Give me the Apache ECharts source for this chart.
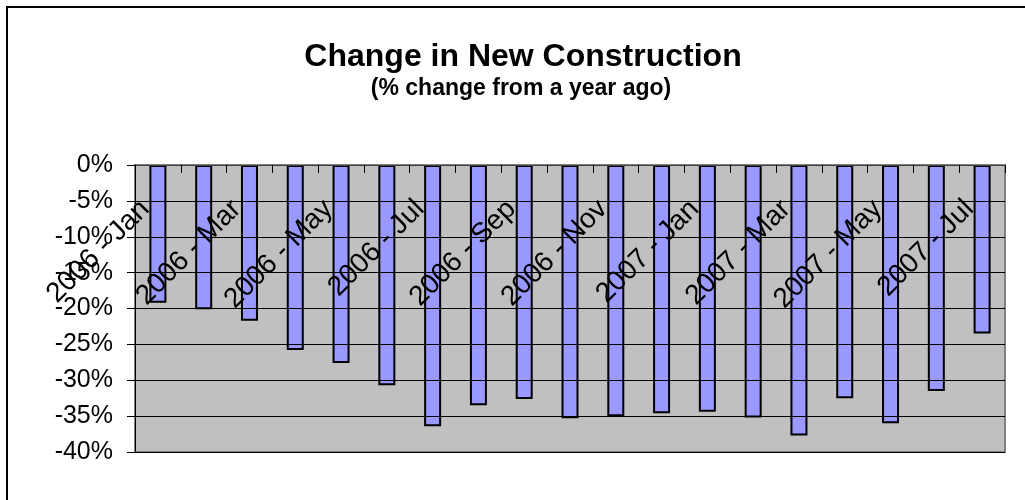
<!DOCTYPE html>
<html>
<head>
<meta charset="utf-8">
<script src="https://cdn.jsdelivr.net/npm/echarts@6/dist/echarts.min.js"></script>
<style>
html,body{margin:0;padding:0;background:#fff;}
#chart{width:1025px;height:500px;}
</style>
</head>
<body>
<div id="chart"></div>
<script>
const categories = ["2006 - Jan","2006 - Feb","2006 - Mar","2006 - Apr","2006 - May","2006 - Jun","2006 - Jul","2006 - Aug","2006 - Sep","2006 - Oct","2006 - Nov","2006 - Dec","2007 - Jan","2007 - Feb","2007 - Mar","2007 - Apr","2007 - May","2007 - Jun","2007 - Jul"];
const pctChange = [-19.2, -20.1, -21.7, -25.8, -27.6, -30.7, -36.4, -33.5, -32.6, -35.3, -35.0, -34.6, -34.4, -35.2, -37.7, -32.5, -36.0, -31.5, -23.5];
const titleText = "Change in New Construction";
const subtitleText = "(% change from a year ago)";

const font = "'Liberation Sans', Arial, sans-serif";
const gridTop = 165, gridBottom = 48;
const plotHeight = 500 - gridTop - gridBottom;
const chart = echarts.init(document.getElementById('chart'), null, {renderer: 'canvas'});
chart.setOption({
  animation: false,
  backgroundColor: '#ffffff',
  title: [
    {text: titleText, left: 518, top: 36, textAlign: 'center',
     textStyle: {fontFamily: font, fontWeight: 'bold', fontSize: 32, color: '#000'}},
    {text: subtitleText, left: 516, top: 72, textAlign: 'center',
     textStyle: {fontFamily: font, fontWeight: 'bold', fontSize: 23, color: '#000'}}
  ],
  graphic: [
    {type: 'rect', shape: {x: 7, y: 7, width: 1100, height: 600},
     style: {fill: 'none', stroke: '#000', lineWidth: 2}, silent: true, z: 100}
  ],
  grid: {left: 135, right: 20, top: gridTop, bottom: gridBottom, show: true, containLabel: false,
         outerBoundsMode: 'none',
         backgroundColor: '#C0C0C0', borderColor: '#808080', borderWidth: 2},
  xAxis: {
    type: 'category', data: categories, position: 'bottom', offset: -plotHeight, z: 10,
    axisLine: {show: true, onZero: false, lineStyle: {color: '#404040', width: 1}},
    axisTick: {show: true, length: 8, alignWithLabel: false, interval: 0, lineStyle: {color: '#000'}},
    axisLabel: {rotate: 45, interval: 1, margin: 27, padding: [0, 18, 0, 0], hideOverlap: false,
                fontFamily: font, fontSize: 28, color: '#000'},
    splitLine: {show: false}
  },
  yAxis: {
    type: 'value', min: -40, max: 0, interval: 5, z: 10,
    axisLine: {show: true, lineStyle: {color: '#000', width: 1}},
    axisTick: {show: true, length: 8, lineStyle: {color: '#000'}},
    axisLabel: {formatter: '{value}%', margin: 22, showMinLabel: true, showMaxLabel: true,
                hideOverlap: false, fontFamily: font, fontSize: 25, color: '#000'},
    splitLine: {show: true, lineStyle: {color: '#000', width: 1}}
  },
  series: [{
    type: 'bar', data: pctChange, barWidth: 17, z: 2,
    itemStyle: {color: '#9999FF', borderColor: '#000', borderWidth: 2}
  }]
});
</script>
</body>
</html>
